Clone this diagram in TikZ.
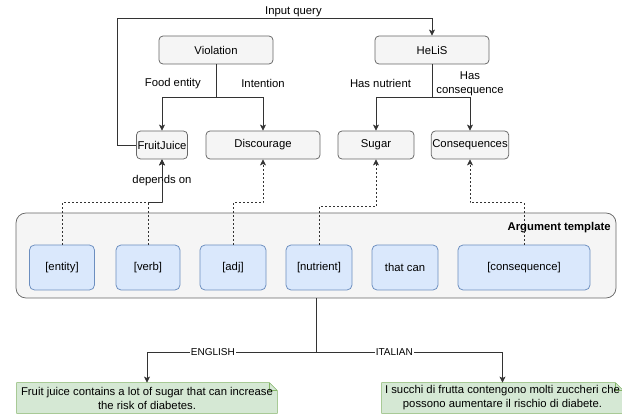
\documentclass[tikz,border=0pt]{standalone}
\usepackage{fontspec}
\setmainfont{Liberation Sans}
\usetikzlibrary{backgrounds,arrows.meta}
\definecolor{boxgray}{HTML}{F5F5F5}
\definecolor{linegray}{HTML}{666666}
\definecolor{edgegray}{HTML}{333333}
\definecolor{slotblue}{HTML}{DAE8FC}
\definecolor{slotline}{HTML}{6C8EBF}
\definecolor{notegreen}{HTML}{D5E8D4}
\definecolor{noteline}{HTML}{82B366}
\tikzset{
	concept/.style={draw=linegray,fill=boxgray,rounded corners=4pt,minimum height=28pt,inner sep=1pt},
	slot/.style={draw=slotline,fill=slotblue,rounded corners=5pt,minimum height=45pt,inner sep=1pt},
	link/.style={->,edgegray},
	dep/.style={->,edgegray,dash pattern=on 2pt off 2pt},
	lab/.style={inner sep=1pt,text=black},
	lang/.style={inner sep=1pt,fill=white,text=black,font=\fontsize{10}{12}\selectfont},
	note/.style={align=center,minimum height=30pt,inner sep=0pt},
}
\begin{document}
\begin{tikzpicture}[x=1pt,y=-1pt,>={Stealth[length=6pt,width=6pt,inset=1.5pt]},line width=0.75pt,font=\fontsize{11.3}{14}\selectfont]
	\useasboundingbox (0,0) rectangle (622,414);
	% concepts
	\node[concept,minimum width=114pt] (viol) at (216,50) {Violation};
	\node[concept,minimum width=114pt] (helis) at (432,50) {HeLiS};
	\node[concept,minimum width=50pt] (fj) at (162,145) {FruitJuice};
	\node[concept,minimum width=114pt] (disc) at (263,145) {Discourage};
	\node[concept,minimum width=76pt] (sugar) at (376,145) {Sugar};
	\node[concept,minimum width=76pt] (cons) at (470,145) {Consequences};
	% template
	\node[concept,rounded corners=10pt,minimum width=600pt,minimum height=85pt] (templ) at (316,255.5) {};
	\node[font=\fontsize{11.3}{14}\selectfont\bfseries,anchor=east,lab] (tname) at (612,228) {Argument template};
	\node[slot,minimum width=65pt] (ent) at (62,267.5) {[entity]};
	\node[slot,minimum width=64pt] (verb) at (148,267.5) {[verb]};
	\node[slot,minimum width=66pt] (adj) at (233,267.5) {[adj]};
	\node[slot,minimum width=66pt] (nutr) at (319,267.5) {[nutrient]};
	\node[slot,minimum width=66pt] (thatcan) at (405,267.5) {that can};
	\node[slot,minimum width=132pt] (conseq) at (524,267.5) {[consequence]};
	% sentences
	\node[note,minimum width=260pt] (en) at (147,398) {Fruit juice contains a lot of sugar that can increase\\the risk of diabetes.};
	\node[note,minimum width=241pt] (it) at (502.5,398) {I succhi di frutta contengono molti zuccheri che\\possono aumentare il rischio di diabete.};
	\begin{scope}[on background layer]
		\foreach \n in {en,it}{
			\filldraw[draw=noteline,fill=notegreen] (\n.south west) -- (\n.north west) -- ([xshift=-8pt]\n.north east) -- ([yshift=-8pt]\n.north east) -- (\n.south east) -- cycle;
			\draw[noteline] ([xshift=-8pt]\n.north east) -- ([xshift=-8pt,yshift=-8pt]\n.north east) -- ([yshift=-8pt]\n.north east);
		}
	\end{scope}
	% edges
	\draw[link] (fj.west) -| (117,18) -| node[pos=0.28,above,lab] {Input query} (helis.north);
	\draw[link] (viol.south) -- ++(0,33) -| node[pos=0.4,yshift=14pt,lab] {Food entity} (fj.north);
	\draw[link] (viol.south) -- ++(0,33) -| node[pos=0.5,yshift=14pt,lab] {Intention} (disc.north);
	\draw[link] (helis.south) -- ++(0,33) -| node[pos=0.46,yshift=14pt,lab] {Has nutrient} (sugar.north);
	\draw[link] (helis.south) -- ++(0,33) -| node[pos=0.5,yshift=14pt,align=center,lab] {Has\\consequence} (cons.north);
	\draw[dep] (ent.north) -- ++(0,-42) -| node[pos=0.75,lab] {depends on} (fj.south);
	\draw[dep] (verb.north) -- ++(0,-42) -| (fj.south);
	\draw[dep] (adj.north) -- ++(0,-42) -| (disc.south);
	\draw[dep] (nutr.north) -- ++(0,-38) -| (sugar.south);
	\draw[dep] (conseq.north) -- ++(0,-42) -| (cons.south);
	\draw[link] (templ.south) -- ++(0,54) -| node[pos=0.305,lang] {ENGLISH} (en.north);
	\draw[link] (templ.south) -- ++(0,54) -| node[pos=0.21,lang] {ITALIAN} (it.north);
\end{tikzpicture}
\end{document}
